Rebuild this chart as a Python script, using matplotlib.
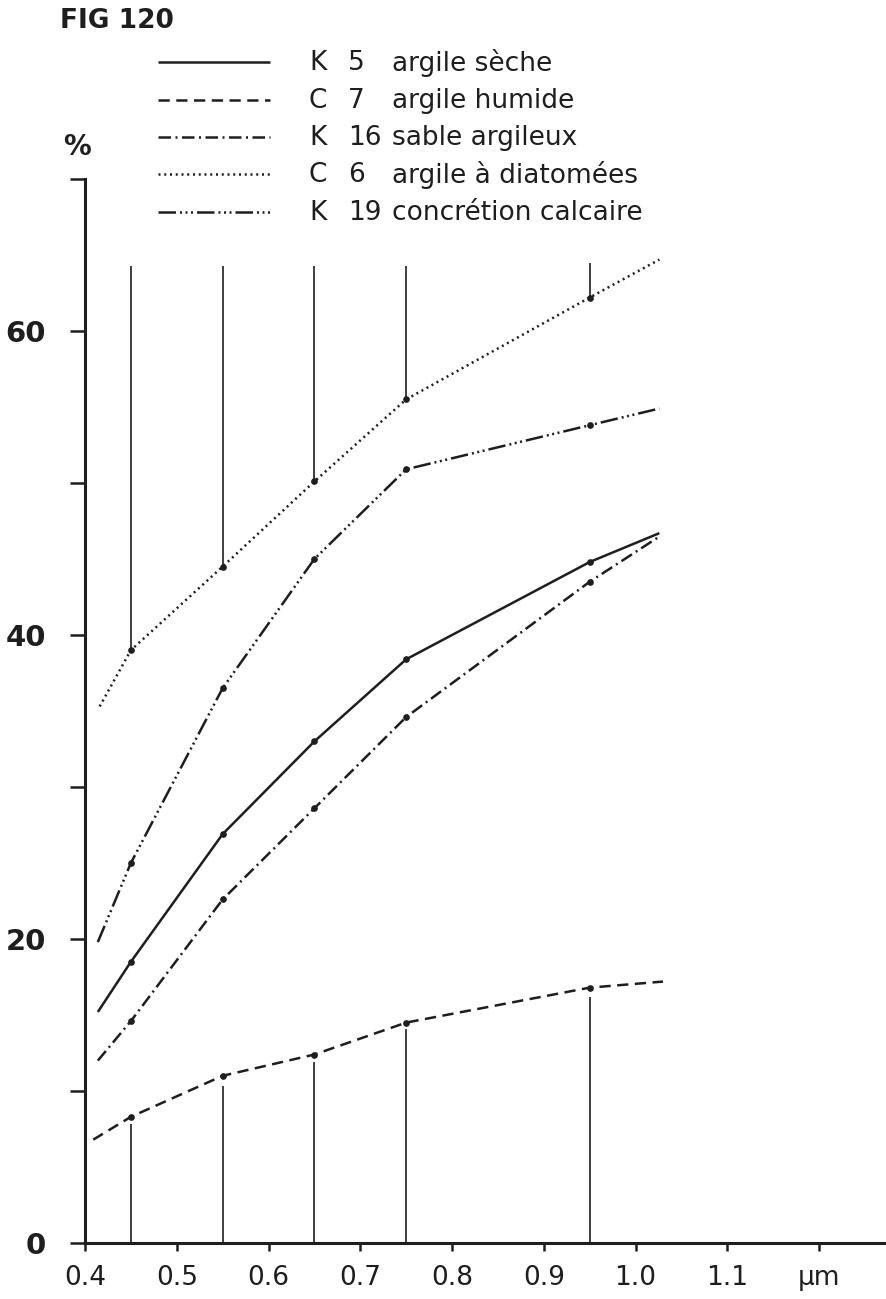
import matplotlib
matplotlib.use("Agg")
import matplotlib.pyplot as plt
from matplotlib.lines import Line2D

# ---------------- data ----------------
x_k5 = [0.414, 0.45, 0.55, 0.65, 0.75, 0.95, 1.026]
y_k5 = [15.2, 18.5, 26.9, 33.0, 38.4, 44.8, 46.7]

x_c7 = [0.409, 0.45, 0.55, 0.65, 0.75, 0.95, 1.030]
y_c7 = [6.8, 8.3, 11.0, 12.4, 14.5, 16.8, 17.2]

x_k16 = [0.414, 0.45, 0.55, 0.65, 0.75, 0.95, 1.024]
y_k16 = [12.0, 14.6, 22.6, 28.6, 34.6, 43.5, 46.4]

x_c6 = [0.416, 0.45, 0.55, 0.65, 0.75, 0.95, 1.026]
y_c6 = [35.3, 39.0, 44.5, 50.1, 55.5, 62.2, 64.7]

x_k19 = [0.414, 0.45, 0.55, 0.65, 0.75, 0.95, 1.026]
y_k19 = [19.8, 25.0, 36.5, 45.0, 50.9, 53.8, 54.9]

# marker lines (wavelengths)
x_marks = [0.45, 0.55, 0.65, 0.75, 0.95]
upper_top = [64.3, 64.3, 64.3, 64.3, 64.5]
upper_bottom = [39.0, 44.5, 50.1, 55.5, 62.2]
lower_top = [7.8, 10.3, 11.9, 14.1, 16.2]

letters = ["K", "C", "K", "C", "K"]
numbers = ["5", "7", "16", "6", "19"]
names = ["argile sèche", "argile humide", "sable argileux",
         "argile à diatomées", "concrétion calcaire"]

x_ticks = [0.4, 0.5, 0.6, 0.7, 0.8, 0.9, 1.0, 1.1, 1.2]
x_ticklabels = ["0.4", "0.5", "0.6", "0.7", "0.8", "0.9", "1.0", "1.1", "µm"]
y_ticks = [0, 10, 20, 30, 40, 50, 60, 70]
y_ticklabels = ["0", "", "20", "", "40", "", "60", ""]

# ---------------- style ----------------
ink = "#1e1e1e"
lw = 1.8
styles = [
    "-",
    (0, (4.5, 2.6)),
    (0, (5, 1.8, 0.8, 1.8)),
    (0, (0.8, 1.5)),
    (0, (7, 1.6, 0.8, 1.4, 0.8, 1.4, 0.8, 1.6)),
]

W, H = 886, 1299
fig = plt.figure(figsize=(W / 100, H / 100), dpi=100)
fig.patch.set_facecolor("white")
ax = fig.add_axes([85 / W, 56 / H, 801 / W, 1064 / H])
ax.set_xlim(0.4, 1.273)
ax.set_ylim(0, 70)

series = [(x_k5, y_k5), (x_c7, y_c7), (x_k16, y_k16), (x_c6, y_c6), (x_k19, y_k19)]
for (xs, ys), ls in zip(series, styles):
    ax.plot(xs, ys, color=ink, lw=lw, linestyle=ls, solid_capstyle="butt",
            dash_capstyle="butt", clip_on=False)
    ax.plot(xs[1:-1], ys[1:-1], linestyle="none", marker="o", markersize=3.8,
            color=ink, clip_on=False)

ax.vlines(x_marks, upper_bottom, upper_top, color=ink, lw=1.2)
ax.vlines(x_marks, [0] * len(x_marks), lower_top, color=ink, lw=1.2)

for s in ["top", "right"]:
    ax.spines[s].set_visible(False)
ax.spines["left"].set_linewidth(2.2)
ax.spines["bottom"].set_linewidth(2.2)
ax.spines["left"].set_color(ink)
ax.spines["bottom"].set_color(ink)

ax.set_xticks(x_ticks)
ax.set_xticklabels(x_ticklabels)
ax.set_yticks(y_ticks)
ax.set_yticklabels(y_ticklabels)
ax.tick_params(axis="x", length=6, width=1.8, pad=10, labelsize=19, colors=ink)
ax.tick_params(axis="y", length=11, width=1.8, pad=17, labelsize=21, colors=ink)
for lab in ax.get_yticklabels():
    lab.set_fontweight("bold")

# ---------------- texts & legend ----------------
def fx(px):
    return px / W

def fy(py):
    return 1 - py / H

fig.text(fx(60), fy(21), "FIG 120", fontsize=19, fontweight="bold",
         color=ink, ha="left", va="center")
fig.text(fx(77), fy(147), "%", fontsize=20, fontweight="bold",
         color=ink, ha="center", va="center")

rows = [62, 100, 137, 174, 212]
for r, ls, let, num, nm in zip(rows, styles, letters, numbers, names):
    fig.add_artist(Line2D([fx(158), fx(270)], [fy(r), fy(r)], color=ink,
                          lw=lw, linestyle=ls, solid_capstyle="butt",
                          dash_capstyle="butt"))
    fig.text(fx(309), fy(r + 1), let, fontsize=19, color=ink,
             ha="left", va="center")
    fig.text(fx(348), fy(r + 1), num, fontsize=19, color=ink,
             ha="left", va="center")
    fig.text(fx(392), fy(r + 1), nm, fontsize=19, color=ink,
             ha="left", va="center")

fig.savefig("out.png", dpi=100, facecolor="white")
